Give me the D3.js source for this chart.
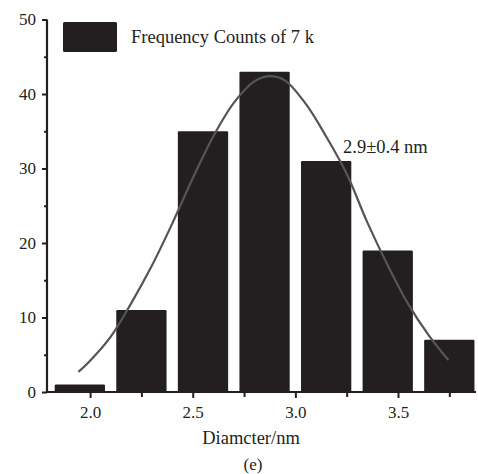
<!DOCTYPE html>
<html>
<head>
<meta charset="utf-8">
<script src="https://cdn.jsdelivr.net/npm/d3@7"></script>
<style>
  html, body { margin: 0; padding: 0; background: #fff; }
  svg { display: block; }
  text { font-family: "Liberation Serif", "Times New Roman", serif; fill: #231f20; }
</style>
</head>
<body>
<div id="chart"></div>
<script>
// Histogram of particle diameters (bin centres in nm) and counts
const binCenters = [1.95, 2.25, 2.55, 2.85, 3.15, 3.45, 3.75];
const counts = [1, 11, 35, 43, 31, 19, 7];
const binWidth = 0.245;

// Fitted distribution curve, sampled points (diameter nm, count)
const fitX = [1.943, 2.0, 2.1, 2.2, 2.3, 2.4, 2.5, 2.6, 2.7, 2.8, 2.88,
              2.95, 3.05, 3.15, 3.25, 3.35, 3.45, 3.55, 3.65, 3.745];
const fitY = [2.7, 4.2, 7.4, 11.9, 16.9, 22.6, 28.7, 34.3, 38.8, 41.7, 42.4,
              41.8, 38.7, 34.3, 29.3, 22.8, 17.0, 11.8, 7.6, 4.3];

const xTicks = [2.0, 2.5, 3.0, 3.5];
const xMinorTicks = [2.25, 2.75, 3.25, 3.75];
const yTicks = [0, 10, 20, 30, 40, 50];
const yMinorTicks = [5, 15, 25, 35, 45];

const legendLabel = "Frequency Counts of 7 k";
const fitLabel = "2.9\u00b10.4 nm";
const xTitle = "Diamcter/nm";
const panelLabel = "(e)";

const W = 478, H = 474;
const ink = "#231f20";
const serif = "'Liberation Serif', 'Times New Roman', serif";

const svg = d3.select("#chart").append("svg")
  .attr("width", W).attr("height", H);

const x = d3.scaleLinear().domain([1.79, 3.88]).range([47, 476]);
const y = d3.scaleLinear().domain([0, 50]).range([392, 19.5]);

// Bars
svg.append("g").selectAll("rect")
  .data(binCenters.map((c, i) => ({ c, v: counts[i] })))
  .join("rect")
  .attr("x", d => x(d.c - binWidth / 2))
  .attr("width", d => x(d.c + binWidth / 2) - x(d.c - binWidth / 2))
  .attr("y", d => y(d.v))
  .attr("height", d => y(0) - y(d.v))
  .attr("rx", 1.2)
  .attr("fill", ink);

// Fit curve
const pts = fitX.map((v, i) => [v, fitY[i]]);
svg.append("path")
  .datum(pts)
  .attr("fill", "none")
  .attr("stroke", "#555")
  .attr("stroke-width", 2.2)
  .attr("d", d3.line().x(d => x(d[0])).y(d => y(d[1])).curve(d3.curveCatmullRom));

// Axes
const yAxis = svg.append("g").attr("transform", `translate(${x.range()[0]},0)`)
  .call(d3.axisLeft(y).tickValues(yTicks).tickFormat(d3.format("d")).tickSize(5).tickPadding(6));
const yMinor = svg.append("g").attr("transform", `translate(${x.range()[0]},0)`)
  .call(d3.axisLeft(y).tickValues(yMinorTicks).tickFormat("").tickSize(3));
const xAxis = svg.append("g").attr("transform", `translate(0,${y(0)})`)
  .call(d3.axisBottom(x).tickValues(xTicks).tickFormat(d3.format(".1f")).tickSize(6).tickPadding(8));
const xMinor = svg.append("g").attr("transform", `translate(0,${y(0)})`)
  .call(d3.axisBottom(x).tickValues(xMinorTicks).tickFormat("").tickSize(5));

[yAxis, yMinor, xAxis, xMinor].forEach(g => {
  g.attr("font-family", serif).attr("font-size", 17);
  g.select(".domain").attr("stroke", ink).attr("stroke-width", 2.2);
  g.selectAll(".tick line").attr("stroke", ink).attr("stroke-width", 2);
  g.selectAll(".tick text").attr("fill", ink);
});
// keep outer ends flat so the axes meet at a corner
yAxis.select(".domain").attr("d", `M0,${y(50)}V${y(0)}`);
yMinor.select(".domain").remove();
xAxis.select(".domain").attr("d", `M${x.range()[0]},0H${x.range()[1]}`);
xMinor.select(".domain").remove();

// Legend
svg.append("rect").attr("x", 63).attr("y", 22).attr("width", 54).attr("height", 30)
  .attr("rx", 1.5).attr("fill", ink);
svg.append("text").attr("x", 131).attr("y", 43).style("font-size", "18.5px").text(legendLabel);

// Fit annotation
svg.append("text").attr("x", 343).attr("y", 153).style("font-size", "18.5px").text(fitLabel);

// Axis title and panel label
svg.append("text").attr("x", 251).attr("y", 444).attr("text-anchor", "middle")
  .style("font-size", "18.5px").text(xTitle);
svg.append("text").attr("x", 253).attr("y", 470).attr("text-anchor", "middle")
  .style("font-size", "17px").text(panelLabel);
</script>
</body>
</html>
